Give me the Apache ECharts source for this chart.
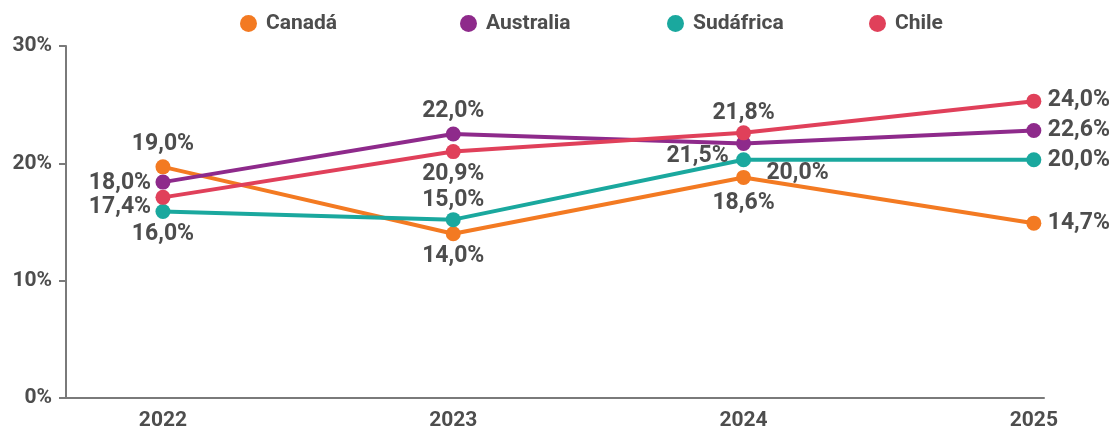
<!DOCTYPE html>
<html>
<head>
<meta charset="utf-8">
<script src="https://cdn.jsdelivr.net/npm/echarts@6/dist/echarts.min.js"></script>
<style>
html,body{margin:0;padding:0;background:#fff;}
#chart{width:1117px;height:431px;}
</style>
</head>
<body>
<div id="chart"></div>
<script>
// ---- data ----
const years = [2022, 2023, 2024, 2025];
const seriesNames = ['Canadá', 'Australia', 'Sudáfrica', 'Chile'];
// plotted positions (in %)
const canada    = [19.7, 14.0, 18.8, 14.9];
const australia = [18.4, 22.5, 21.7, 22.8];
const sudafrica = [15.9, 15.2, 20.3, 20.3];
const chile     = [17.1, 21.0, 22.6, 25.3];
// printed data labels
const canadaLabels    = ['19,0%', '14,0%', '18,6%', '14,7%'];
const australiaLabels = ['18,0%', '22,0%', '21,5%', '22,6%'];
const sudafricaLabels = ['16,0%', '15,0%', '20,0%', '20,0%'];
const chileLabels     = ['17,4%', '20,9%', '21,8%', '24,0%'];
const yTicks = [0, 10, 20, 30];

// ---- styling ----
const FONT = "'Roboto', 'Liberation Sans', sans-serif";
const TXT = '#4d4d4d';
const AXIS = '#7a7a7a';
const colors = ['#f37a22', '#8e2a8b', '#1aa89e', '#e0405a'];
const values = [canada, australia, sudafrica, chile];
const labels = [canadaLabels, australiaLabels, sudafricaLabels, chileLabels];
// label offsets (label centre relative to point)
const offsets = [
  [[0,-23],[0,23],[0,26],[45,0]],
  [[-43,1],[0,-23],[-46,13],[45,0]],
  [[0,23],[0,-19],[54,13],[45,0]],
  [[-43,10],[0,23],[0,-20],[45,-1]]
];
const legendLeft = [235, 455, 662, 864];

const series = seriesNames.map((name, s) => ({
  name: name,
  type: 'line',
  data: years.map((y, i) => ({
    value: [y, values[s][i]],
    label: {
      show: true,
      position: 'inside',
      offset: offsets[s][i],
      formatter: labels[s][i]
    }
  })),
  symbol: 'circle',
  symbolSize: 15,
  lineStyle: {width: 4, color: colors[s]},
  itemStyle: {color: colors[s]},
  label: {
    fontFamily: FONT, fontWeight: 'bold', fontSize: 23, color: TXT
  },
  emphasis: {disabled: true},
  animation: false
}));

const legends = seriesNames.map((name, s) => ({
  data: [name],
  left: legendLeft[s],
  top: 8,
  icon: 'circle',
  itemWidth: 17,
  itemHeight: 17,
  textStyle: {fontFamily: FONT, fontWeight: 'bold', fontSize: 21, color: TXT, padding: [0,0,0,4]},
  selectedMode: false
}));

const chart = echarts.init(document.getElementById('chart'), null, {renderer: 'canvas'});
chart.setOption({
  backgroundColor: '#fff',
  animation: false,
  color: colors,
  legend: legends,
  grid: {left: 66, right: 73, top: 46, bottom: 30, containLabel: false},
  xAxis: {
    type: 'value',
    min: 2021.666,
    max: 2025.035,
    axisLine: {show: true, lineStyle: {color: AXIS, width: 2}},
    axisTick: {show: false},
    splitLine: {show: false},
    axisLabel: {
      customValues: years,
      formatter: v => String(v),
      fontFamily: FONT, fontWeight: 'bold', fontSize: 21, color: TXT, margin: 12
    }
  },
  yAxis: {
    type: 'value',
    min: yTicks[0],
    max: yTicks[yTicks.length - 1],
    interval: 10,
    axisLine: {show: true, lineStyle: {color: AXIS, width: 2}},
    axisTick: {show: true, length: 7, lineStyle: {color: AXIS, width: 2}},
    splitLine: {show: false},
    axisLabel: {
      formatter: '{value}%',
      fontFamily: FONT, fontWeight: 'bold', fontSize: 21, color: TXT, margin: 14
    }
  },
  series: series
});
</script>
</body>
</html>
